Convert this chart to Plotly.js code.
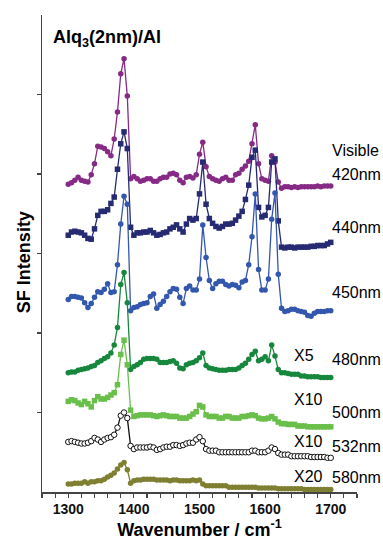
<!DOCTYPE html>
<html>
<head>
<meta charset="utf-8">
<script src="https://cdn.plot.ly/plotly-3.0.1.min.js"></script>
<style>html,body{margin:0;padding:0;background:#fff;}#chart{width:383px;height:540px;}</style>
</head>
<body>
<div id="chart"></div>
<script>
// Wavenumber grid (cm-1)
const wavenumber = [1300,1305,1310,1315,1320,1325,1330,1335,1340,1345,
1350,1355,1360,1365,1370,1375,1380,1385,1390,1395,
1400,1405,1410,1415,1420,1425,1430,1435,1440,1445,
1450,1455,1460,1465,1470,1475,1480,1485,1490,1495,
1500,1505,1510,1515,1520,1525,1530,1535,1540,1545,
1550,1555,1560,1565,1570,1575,1580,1585,1590,1595,
1600,1605,1610,1615,1620,1625,1630,1635,1640,1645,
1650,1655,1660,1665,1670,1675,1680,1685,1690,1695,1700];

// SF intensity (offset, arbitrary units) per visible wavelength
const sf420 = [3.87,3.89,3.92,3.96,3.92,3.91,3.90,3.99,4.13,4.35,
4.34,4.32,4.28,4.23,4.44,4.78,5.26,5.45,4.98,3.94,
3.97,3.94,3.91,3.92,3.94,3.94,3.91,3.91,3.94,3.96,
3.96,4.00,4.01,3.99,3.92,3.89,3.96,3.97,3.95,3.99,
4.25,4.40,4.09,3.97,3.94,3.92,3.91,3.94,3.96,3.92,
3.92,3.99,4.01,4.06,4.10,4.16,4.38,4.62,4.13,3.94,
3.92,3.91,4.23,4.15,3.90,3.82,3.84,3.84,3.83,3.84,
3.83,3.84,3.84,3.84,3.84,3.84,3.85,3.84,3.85,3.85,3.85];

const sf440 = [3.23,3.27,3.28,3.27,3.26,3.23,3.19,3.18,3.31,3.48,
3.53,3.53,3.55,3.63,3.71,4.06,4.38,4.53,4.32,3.33,
3.23,3.26,3.26,3.27,3.27,3.29,3.26,3.23,3.24,3.26,
3.27,3.31,3.33,3.36,3.31,3.27,3.37,3.44,3.42,3.44,
3.75,4.15,3.62,3.44,3.38,3.34,3.32,3.34,3.37,3.37,
3.38,3.42,3.47,3.53,3.68,3.86,4.21,4.30,3.58,3.46,
3.48,3.58,4.15,4.19,3.41,3.08,3.07,3.08,3.08,3.07,
3.08,3.08,3.08,3.08,3.09,3.09,3.10,3.10,3.10,3.12,3.14];

const sf450 = [2.42,2.46,2.46,2.45,2.44,2.38,2.32,2.37,2.45,2.52,
2.51,2.55,2.62,2.51,2.52,2.86,3.37,3.72,3.62,2.28,
2.32,2.33,2.36,2.37,2.38,2.46,2.49,2.31,2.36,2.40,
2.46,2.52,2.56,2.55,2.45,2.37,2.56,2.59,2.54,2.54,
2.68,3.36,2.95,2.66,2.56,2.62,2.65,2.65,2.61,2.59,
2.61,2.60,2.57,2.64,2.66,2.86,3.21,3.75,2.80,2.54,
2.54,2.68,3.43,3.76,2.74,2.31,2.27,2.28,2.30,2.30,
2.28,2.27,2.26,2.22,2.21,2.25,2.27,2.27,2.27,2.28,2.28];

const sf480 = [1.50,1.51,1.51,1.53,1.54,1.55,1.56,1.58,1.59,1.63,
1.65,1.68,1.70,1.75,1.85,2.07,2.61,2.76,2.38,1.54,
1.58,1.60,1.63,1.67,1.68,1.68,1.68,1.67,1.63,1.63,
1.63,1.64,1.65,1.62,1.56,1.55,1.60,1.62,1.63,1.65,
1.69,1.75,1.59,1.56,1.55,1.54,1.53,1.53,1.53,1.54,
1.54,1.54,1.56,1.59,1.62,1.67,1.73,1.77,1.65,1.67,
1.70,1.65,1.85,1.71,1.54,1.50,1.50,1.49,1.48,1.48,
1.48,1.46,1.46,1.45,1.45,1.45,1.45,1.44,1.44,1.44,1.44];

const sf500 = [1.14,1.16,1.15,1.12,1.10,1.14,1.11,1.07,1.15,1.20,
1.17,1.17,1.19,1.22,1.25,1.35,1.73,1.91,1.60,1.03,
0.95,0.96,0.97,0.97,0.97,0.97,0.96,0.95,0.96,0.97,
0.96,0.95,0.95,0.95,0.93,0.93,0.93,0.95,0.98,1.01,
1.09,1.07,0.97,0.95,0.95,0.95,0.93,0.93,0.95,0.95,
0.93,0.93,0.93,0.95,0.95,0.96,0.97,0.96,0.93,0.92,
0.92,0.93,0.95,0.92,0.88,0.86,0.86,0.85,0.85,0.85,
0.83,0.83,0.83,0.82,0.82,0.82,0.82,0.82,0.82,0.82,0.82];

const sf532 = [0.63,0.64,0.63,0.62,0.61,0.61,0.62,0.64,0.68,0.66,
0.63,0.66,0.68,0.69,0.72,0.81,0.96,1.00,0.93,0.58,
0.54,0.56,0.56,0.56,0.56,0.57,0.56,0.53,0.54,0.56,
0.57,0.57,0.59,0.59,0.58,0.59,0.61,0.62,0.62,0.66,
0.69,0.64,0.54,0.52,0.52,0.52,0.50,0.50,0.50,0.50,
0.50,0.50,0.50,0.50,0.50,0.50,0.52,0.52,0.50,0.50,
0.50,0.52,0.56,0.54,0.49,0.47,0.47,0.47,0.45,0.45,
0.45,0.45,0.45,0.45,0.44,0.44,0.44,0.44,0.44,0.43,0.43];

const sf580 = [0.10,0.10,0.11,0.11,0.11,0.13,0.11,0.13,0.13,0.14,
0.14,0.16,0.19,0.21,0.24,0.29,0.34,0.37,0.28,0.11,
0.14,0.15,0.15,0.16,0.16,0.16,0.16,0.15,0.15,0.15,
0.15,0.14,0.15,0.15,0.14,0.14,0.14,0.14,0.15,0.14,
0.15,0.10,0.08,0.08,0.08,0.08,0.08,0.08,0.08,0.06,
0.06,0.06,0.06,0.06,0.06,0.06,0.06,0.06,0.05,0.05,
0.05,0.05,0.05,0.05,0.04,0.04,0.04,0.04,0.04,0.04,
0.04,0.04,0.03,0.03,0.03,0.03,0.03,0.03,0.03,0.03,0.03];

const seriesNames = ["420nm","440nm","450nm","480nm","500nm","532nm","580nm"];
const scaleLabels = ["","","","X5","X10","X10","X20"];
const xTickVals = [1300,1400,1500,1600,1700];
const xTickText = ["1300","1400","1500","1600","1700"];

const font = "Liberation Sans, Arial, Helvetica, sans-serif";

function tr(y, name, color, symbol, fill) {
  return {
    x: wavenumber, y: y, name: name, type: "scatter", mode: "lines+markers",
    cliponaxis: false,
    line: {color: color, width: 1.3},
    marker: {symbol: symbol, size: 5.5, color: fill || color,
             line: {color: color, width: fill ? 1 : 0}}
  };
}

const data = [
  tr(sf420, seriesNames[0], "#862a86", "circle"),
  tr(sf440, seriesNames[1], "#262a72", "square"),
  tr(sf450, seriesNames[2], "#3457ae", "circle"),
  tr(sf480, seriesNames[3], "#17873d", "circle"),
  tr(sf500, seriesNames[4], "#6abf4b", "square"),
  tr(sf532, seriesNames[5], "#111111", "circle", "#ffffff"),
  tr(sf580, seriesNames[6], "#7f7f32", "circle")
];

// label anchor values (data units) next to each trace
const labelY = [3.99, 3.33, 2.51, 1.67, 1.00, 0.57, 0.18];
const scaleY = [0, 0, 0, 1.72, 1.16, 0.64, 0.20];

const annotations = [];
annotations.push({xref:"x", yref:"y", x:1274, y:5.70, xanchor:"left", yanchor:"middle",
  text:"<b>Alq<sub>3</sub>(2nm)/Al</b>", showarrow:false, font:{family:font, size:18, color:"#000"}});
annotations.push({xref:"paper", yref:"paper", x:-0.057, y:0.482, xanchor:"center", yanchor:"middle",
  textangle:-90, text:"<b>SF Intensity</b>", showarrow:false, font:{family:font, size:18, color:"#000"}});
annotations.push({xref:"x", yref:"y", x:1699, y:4.30, xanchor:"left", yanchor:"middle",
  text:"Visible", showarrow:false, font:{family:font, size:16, color:"#000"}});
for (let i = 0; i < seriesNames.length; i++) {
  annotations.push({xref:"x", yref:"y", x:1699, y:labelY[i], xanchor:"left", yanchor:"middle",
    text:seriesNames[i], showarrow:false, font:{family:font, size:16, color:"#000"}});
  if (scaleLabels[i]) {
    annotations.push({xref:"x", yref:"y", x:1641, y:scaleY[i], xanchor:"left", yanchor:"middle",
      text:scaleLabels[i], showarrow:false, font:{family:font, size:16, color:"#000"}});
  }
}

const layout = {
  width: 383, height: 540,
  margin: {l: 42, r: 26, t: 15, b: 48},
  paper_bgcolor: "#fff", plot_bgcolor: "#fff",
  showlegend: false,
  font: {family: font, color: "#000"},
  xaxis: {
    range: [1260, 1740], showgrid: false, zeroline: false,
    showline: true, linecolor: "#444", linewidth: 1.5,
    ticks: "outside", ticklen: 4, tickwidth: 1.2, tickcolor: "#444",
    tickvals: xTickVals, ticktext: xTickText.map(t => "<b>" + t + "</b>"),
    tickfont: {family: font, size: 14, color: "#111", weight: 700},
    minor: {dtick: 20, tick0: 1260, ticks: "outside", ticklen: 4, tickwidth: 1.2, tickcolor: "#444", showgrid: false},
    title: {text: "<b>Wavenumber / cm<sup>-1</sup></b>", font: {family: font, size: 18, color: "#000"}, standoff: 6}
  },
  yaxis: {
    range: [0, 6], showgrid: false, zeroline: false,
    showline: true, linecolor: "#444", linewidth: 1.5,
    ticks: "outside", ticklen: 4, tickwidth: 1.2, tickcolor: "#444",
    tickvals: [1, 2, 3, 4, 5], showticklabels: false
  },
  annotations: annotations
};

Plotly.newPlot("chart", data, layout, {displayModeBar: false, staticPlot: true});
</script>
</body>
</html>
